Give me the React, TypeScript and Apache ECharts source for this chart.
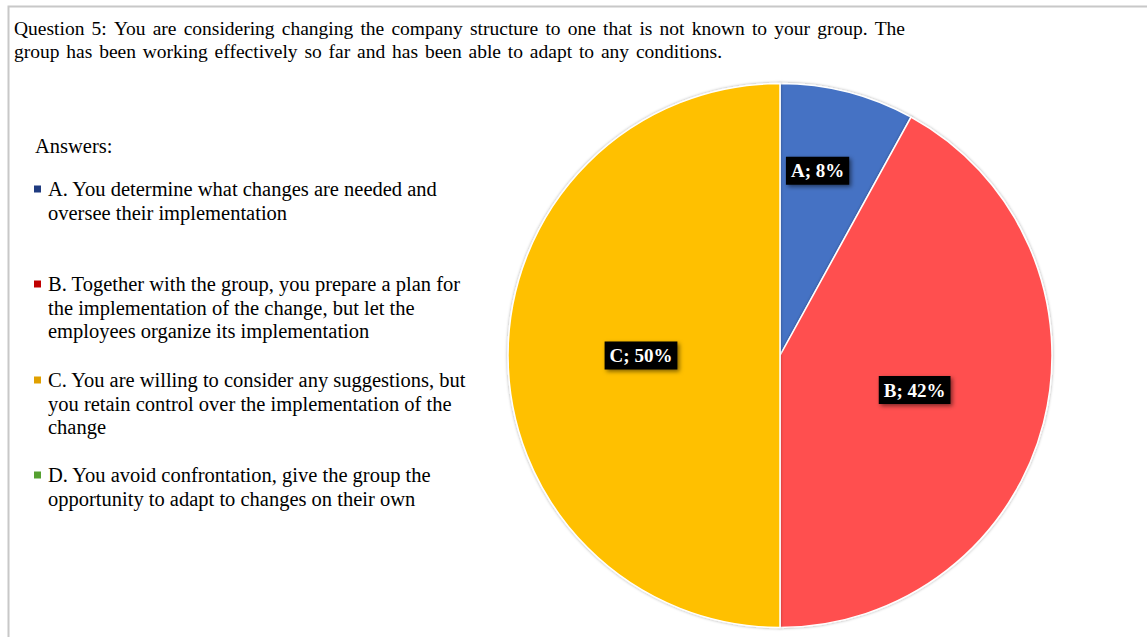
import React, { useEffect, useRef } from "react";
import * as echarts from "echarts";

const titleLines = [
  "Question 5: You are considering changing the company structure to one that is not known to your group. The",
  "group has been working effectively so far and has been able to adapt to any conditions.",
];
const legendHeading = "Answers:";
const categories = ["A", "B", "C", "D"];
const values = [8, 42, 50, 0];
const answerLines = [
  ["A. You determine what changes are needed and", "oversee their implementation"],
  ["B. Together with the group, you prepare a plan for", "the implementation of the change, but let the", "employees organize its implementation"],
  ["C. You are willing to consider any suggestions, but", "you retain control over the implementation of the", "change"],
  ["D. You avoid confrontation, give the group the", "opportunity to adapt to changes on their own"],
];
const sliceColors = ["#4472C4", "#FF5050", "#FFC000", "#70AD47"];
const markerColors = ["#1F3B80", "#C00000", "#E0A000", "#55A030"];

const SERIF = "'Liberation Serif', 'Times New Roman', serif";

export default function App() {
  const ref = useRef<HTMLDivElement>(null);
  useEffect(() => {
    document.body.style.margin = "0";
    const chart = echarts.init(ref.current!, undefined, { renderer: "svg" });
    const graphics: any[] = [];
    graphics.push({
      type: "rect",
      shape: { x: 8.5, y: 6.5, width: 1200, height: 700 },
      style: { fill: "#fff", stroke: "#C8C8C8", lineWidth: 2 },
      z: -10,
    });

    // title lines, word spacing adjusted to the reference's line widths
    const titleFont = `19.5px ${SERIF}`;
    const ctx = document.createElement("canvas").getContext("2d")!;
    ctx.font = titleFont;
    const lineSpan = [891, 708];
    titleLines.forEach((t, i) => {
      const words = t.split(" ");
      const widths = words.map((w) => ctx.measureText(w).width);
      const total = widths.reduce((a, b) => a + b, 0);
      const gap = (lineSpan[i] - total) / (words.length - 1);
      let x = 14;
      words.forEach((w, k) => {
        graphics.push({
          type: "text",
          x,
          y: 28 + i * 23,
          style: { text: w, font: titleFont, fill: "#000", verticalAlign: "middle" },
        });
        x += widths[k] + gap;
      });
    });

    const legendFont = `20.5px ${SERIF}`;
    graphics.push({
      type: "text",
      x: 35,
      y: 146,
      style: { text: legendHeading, font: legendFont, fill: "#000", verticalAlign: "middle" },
    });
    const starts = [189, 284, 380, 475];
    answerLines.forEach((lines, i) => {
      graphics.push({
        type: "rect",
        shape: { x: 34, y: starts[i] - 3.5, width: 7, height: 7 },
        style: { fill: markerColors[i] },
      });
      lines.forEach((l, j) => {
        graphics.push({
          type: "text",
          x: 48,
          y: starts[i] + j * 23.5,
          style: { text: l, font: legendFont, fill: "#000", verticalAlign: "middle" },
        });
      });
    });

    const data = categories
      .map((c, i) => ({ name: c, value: values[i], itemStyle: { color: sliceColors[i] } }))
      .filter((d) => d.value > 0);

    chart.setOption({
      animation: false,
      graphic: graphics,
      series: [
        {
          type: "pie",
          center: [780, 355.5],
          radius: 272,
          startAngle: 90,
          clockwise: true,
          data,
          itemStyle: {
            borderColor: "#fff",
            borderWidth: 1.5,
            shadowBlur: 3,
            shadowColor: "rgba(0,0,0,0.35)",
          },
          label: {
            position: "inside",
            formatter: "{b}; {c}%",
            color: "#fff",
            fontFamily: SERIF,
            fontSize: 19,
            fontWeight: "bold",
            backgroundColor: "#000",
            padding: [5, 5, 4, 5],
            shadowBlur: 4,
            shadowColor: "rgba(0,0,0,0.5)",
            shadowOffsetX: 2,
            shadowOffsetY: 2,
          },
          labelLine: { show: false },
          labelLayout: (p: any) => (p.dataIndex === 0 ? { dx: 3, dy: -50 } : {}),
          emphasis: { disabled: true },
        },
      ],
    });
    return () => chart.dispose();
  }, []);
  return <div ref={ref} style={{ width: 1147, height: 637 }} />;
}
